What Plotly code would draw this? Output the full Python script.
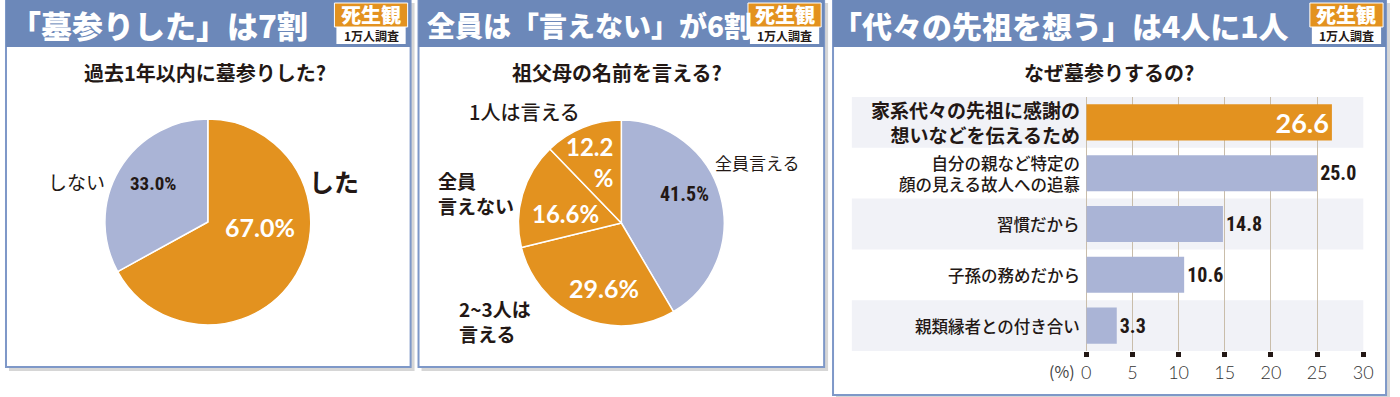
import plotly.graph_objects as go

W, H = 1400, 397

# ---------------- data ----------------
panel_titles = ["「墓参りした」は7割", "全員は「言えない」が6割", "「代々の先祖を想う」は4人に1人"]
panel_subtitles = ["過去1年以内に墓参りした?", "祖父母の名前を言える?", "なぜ墓参りするの?"]
badge_top = "死生観"
badge_bottom = "1万人調査"

pie1_labels = ["した", "しない"]
pie1_values = [67.0, 33.0]

pie2_labels = ["全員言える", "2~3人は言える", "全員言えない", "1人は言える"]
pie2_values = [41.5, 29.6, 16.6, 12.2]

bar_labels = ["家系代々の先祖に感謝の想いなどを伝えるため",
              "自分の親など特定の顔の見える故人への追慕",
              "習慣だから",
              "子孫の務めだから",
              "親類縁者との付き合い"]
bar_values = [26.6, 25.0, 14.8, 10.6, 3.3]
x_ticks = [0, 5, 10, 15, 20, 25, 30]
x_unit = "(%)"

# ---------------- style ----------------
ORANGE = "#E3921F"
BLUE = "#AAB4D6"
HEADER = "#6C88B9"
BORDER = "#7E98C8"
STRIPE = "#F1F2F7"
GRID = "#C9BDAA"
INK = "#231815"
CJK = "Noto Sans CJK JP"
GEO = "Lato, Noto Sans, sans-serif"
NARROW = "Roboto Condensed, Liberation Sans Narrow, Roboto, sans-serif"


def fx(p):
    return p / W


def fy(p):
    return 1 - p / H


shapes = []
annotations = []


def rect(x0, y0, x1, y1, fill, line_color=None, line_width=0, layer="below"):
    shapes.append(dict(type="rect", xref="paper", yref="paper",
                       x0=fx(x0), x1=fx(x1), y0=fy(y1), y1=fy(y0),
                       fillcolor=fill, layer=layer,
                       line=dict(color=line_color or fill, width=line_width)))


def text(x, y, s, size, color=INK, weight=400, family=CJK, xanchor="center", align="center"):
    annotations.append(dict(x=fx(x), y=fy(y), xref="paper", yref="paper", text=s,
                            showarrow=False, xanchor=xanchor, yanchor="middle", align=align,
                            font=dict(family=family, size=size, color=color, weight=weight)))


# ---------------- panels ----------------
panels = [(1, 410, 367), (418, 828, 367), (837, 1396, 395)]
title_sizes = [31, 28, 30]
title_x = [3, 425, 834]
subtitle_x = [202, 619, 1116]
for i, (x0, x1, y1) in enumerate(panels):
    rect(x0 + 3, 3, x1 + 4, y1 + 4, "rgba(0,0,0,0.16)")
    rect(x0, 0, x1, y1, "white", BORDER, 2)
    rect(x0, 0, x1, 47, HEADER)
    # badge
    rect(x1 - 77, 3, x1 - 3, 27, ORANGE, "white", 1)
    rect(x1 - 75, 27, x1 - 5, 44, "white")
    text(x1 - 40, 15, badge_top, 20, "white", 900)
    text(x1 - 40, 36, badge_bottom, 12, INK, 700)
    text(title_x[i], 25, panel_titles[i], title_sizes[i], "white", 900, xanchor="left")
    text(subtitle_x[i], 72, panel_subtitles[i], 20, INK, 700)

# ---------------- pie 1 ----------------
c1x, c1y, r = 205, 222, 104
pie1 = go.Pie(labels=pie1_labels, values=pie1_values, sort=False, direction="clockwise",
              rotation=0, marker=dict(colors=[ORANGE, BLUE], line=dict(color="white", width=1.5)),
              textinfo="none", hoverinfo="skip", showlegend=False,
              domain=dict(x=[fx(c1x - r), fx(c1x + r)], y=[fy(c1y + r), fy(c1y - r)]))

text(333, 181, pie1_labels[0], 25, INK, 700)
text(258, 227, f"{pie1_values[0]:.1f}%", 25, "white", 700, GEO)
text(72, 182, pie1_labels[1], 19, INK, 400)
text(150, 183, f"{pie1_values[1]:.1f}%", 19, INK, 700, NARROW)

# ---------------- pie 2 ----------------
c2x, c2y = 623, 223
pie2 = go.Pie(labels=pie2_labels, values=pie2_values, sort=False, direction="clockwise",
              rotation=0, marker=dict(colors=[BLUE, ORANGE, ORANGE, ORANGE],
                                      line=dict(color="white", width=1.5)),
              textinfo="none", hoverinfo="skip", showlegend=False,
              domain=dict(x=[fx(c2x - r), fx(c2x + r)], y=[fy(c2y + r), fy(c2y - r)]))

text(761, 162, pie2_labels[0], 17, INK, 400)
text(687, 194, f"{pie2_values[0]:.1f}%", 20, INK, 700, NARROW)
text(457, 321, pie2_labels[1][:5] + "<br>" + pie2_labels[1][5:], 19, INK, 700, xanchor="left", align="left")
text(605, 288, f"{pie2_values[1]:.1f}%", 25, "white", 700, GEO)
text(436, 193, pie2_labels[2][:2] + "<br>" + pie2_labels[2][2:], 19, INK, 700, xanchor="left", align="left")
text(567, 213, f"{pie2_values[2]:.1f}%", 24, "white", 700, GEO)
text(525, 112, pie2_labels[3], 20, INK, 500)
text(591, 162, f"{pie2_values[3]:.1f}<br>%", 24, "white", 700, GEO, align="right")

# ---------------- bar chart ----------------
bar_colors = [ORANGE] + [BLUE] * (len(bar_values) - 1)
bar = go.Bar(x=bar_values, y=bar_labels, orientation="h",
             marker=dict(color=bar_colors, line=dict(width=0)),
             text=[f"{v:.1f}" for v in bar_values],
             textposition=["inside"] + ["outside"] * (len(bar_values) - 1),
             insidetextanchor="end",
             textfont=dict(color=["white"] + [INK] * (len(bar_values) - 1),
                           size=[27] + [20] * (len(bar_values) - 1),
                           family=[GEO] + [NARROW] * (len(bar_values) - 1),
                           weight=700),
             constraintext="none",
             cliponaxis=False, hoverinfo="skip", showlegend=False,
             xaxis="x", yaxis="y")

# stripes on alternate rows
for i in range(0, len(bar_labels), 2):
    shapes.append(dict(type="rect", xref="paper", yref="y", x0=fx(856), x1=fx(1373),
                       y0=i - 0.5, y1=i + 0.5, fillcolor=STRIPE, layer="below",
                       line=dict(width=0)))

# category labels
breaks = {0: 11, 1: 9}
for i, lab in enumerate(bar_labels):
    s = lab[:breaks[i]] + "<br>" + lab[breaks[i]:] if i in breaks else lab
    annotations.append(dict(x=fx(1089), xref="paper", y=lab, yref="y", text=s, showarrow=False,
                            xanchor="right", yanchor="middle", align="right",
                            font=dict(family=CJK, size=19 if i == 0 else 16.5, color=INK,
                                      weight=700 if i == 0 else 500)))

text(1068, 371, x_unit, 16, "#444", 400)

fig = go.Figure([pie1, pie2, bar])
fig.update_layout(
    width=W, height=H, margin=dict(l=0, r=0, t=0, b=0),
    paper_bgcolor="white", plot_bgcolor="rgba(0,0,0,0)",
    shapes=shapes, annotations=annotations, bargap=0.29,
    font=dict(family=CJK, color=INK),
    xaxis=dict(domain=[fx(1093), fx(1373)], range=[0, 30], tickvals=x_ticks,
               showgrid=True, gridcolor=GRID, gridwidth=1,
               zeroline=True, zerolinecolor=GRID, zerolinewidth=1,
               ticks="outside", ticklen=5, tickwidth=5, tickcolor=INK,
               ticklabelstandoff=0,
               tickfont=dict(family=GEO, size=18, color="#333", weight=300),
               showline=False, anchor="y", fixedrange=True),
    yaxis=dict(domain=[fy(351), fy(97)], type="category", categoryarray=bar_labels,
               categoryorder="array", range=[4.5, -0.5], autorange=False,
               showticklabels=False, showgrid=False, ticks="", zeroline=False,
               fixedrange=True),
)

fig.write_html("out.html", config={"displayModeBar": False},
               post_script="document.body.style.margin='0';")
